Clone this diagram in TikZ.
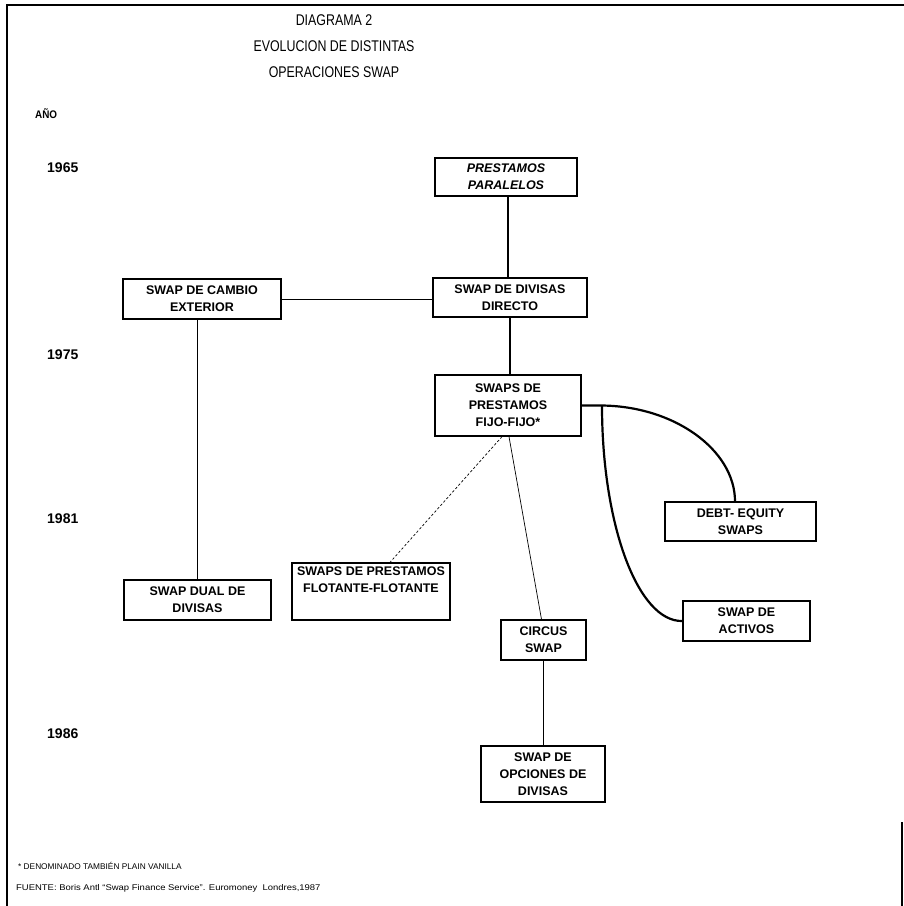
\documentclass[tikz,border=0pt]{standalone}
\usepackage{fontspec}
\setmainfont{Liberation Sans}
\begin{document}
\begin{tikzpicture}[x=1pt,y=-1pt,
  box/.style={draw, line width=1.3pt, align=center, inner sep=0pt,
    font=\fontsize{12.5}{17}\selectfont\bfseries},
  ibox/.style={box, font=\fontsize{12.5}{17}\selectfont\bfseries\itshape},
  year/.style={anchor=west, inner sep=0pt, font=\fontsize{14}{16}\selectfont\bfseries},
  title/.style={inner sep=0pt, font=\fontsize{15.5}{18}\selectfont},
  note/.style={anchor=west, inner sep=0pt, font=\fontsize{8.3}{10}\selectfont},
  link/.style={line width=1.3pt},
  thinlink/.style={line width=0.7pt},
  dotlink/.style={line width=0.7pt, dash pattern=on 2.5pt off 2pt},
  heavy/.style={line width=2.2pt},
  frame/.style={line width=1.5pt}]

% page and frame
\fill[white] (0,0) rectangle (904,906);
\useasboundingbox (0,0) rectangle (904,906);
\draw[frame] (7,906) -- (7,5) -- (904,5);
\draw[frame] (902,822) -- (902,906);

% heading (narrow setting)
\node[title] (t1) at (334,20) {\scalebox{0.8}[1]{DIAGRAMA 2}};
\node[title] (t2) at (334,46) {\scalebox{0.8}[1]{EVOLUCION DE DISTINTAS}};
\node[title] (t3) at (334,72) {\scalebox{0.8}[1]{OPERACIONES SWAP}};

% year axis
\node[year, font=\fontsize{11}{12}\selectfont\bfseries] (ano) at (35,114) {\scalebox{0.9}[1]{AÑO}};
\node[year] (y65) at (47,168) {1965};
\node[year] (y75) at (47,355) {1975};
\node[year] (y81) at (47,519) {1981};
\node[year] (y86) at (47,734) {1986};

% operations
\node[ibox, minimum width=142pt, minimum height=38pt] (par) at (506,177) {PRESTAMOS\\PARALELOS};
\node[box, minimum width=158pt, minimum height=40pt] (cambio) at (202,299) {SWAP DE CAMBIO\\EXTERIOR};
\node[box, minimum width=154pt, minimum height=39pt] (directo) at (510,297.5) {SWAP DE DIVISAS\\DIRECTO};
\node[box, minimum width=146pt, minimum height=61pt] (fijo) at (508,405.5) {SWAPS DE\\PRESTAMOS\\FIJO-FIJO*};
\node[box, minimum width=151pt, minimum height=39pt] (debt) at (740.5,521.5) {DEBT- EQUITY\\SWAPS};
\node[box, minimum width=147pt, minimum height=40pt] (dual) at (197.5,600) {SWAP DUAL DE\\DIVISAS};
\node[box, minimum width=158pt, minimum height=57pt] (flot) at (371,591.5) {SWAPS DE PRESTAMOS\\FLOTANTE-FLOTANTE\\[6pt]};
\node[box, minimum width=127pt, minimum height=40pt] (activos) at (746.5,621) {SWAP DE\\ACTIVOS};
\node[box, minimum width=85pt, minimum height=40pt] (circus) at (543.5,640) {CIRCUS\\SWAP};
\node[box, minimum width=124pt, minimum height=56pt] (opciones) at (543,774) {SWAP DE\\OPCIONES DE\\DIVISAS};

% connectors
\draw[link] ([xshift=2pt]par.south) -- ([xshift=2pt]par.south |- directo.north);
\draw[thinlink] (cambio.east) -- (cambio.east -| directo.west);
\draw[link] (directo.south) -- (directo.south |- fijo.north);
\draw[thinlink] ([xshift=-5pt]cambio.south) -- ([xshift=-5pt]cambio.south |- dual.north);
\draw[dotlink] ([xshift=-6pt]fijo.south) -- ([xshift=19pt]flot.north);
\draw[thinlink] ([xshift=1pt]fijo.south) -- ([xshift=-2pt]circus.north);
\draw[thinlink] (circus.south) -- (circus.south |- opciones.north);

\coordinate (bend) at (600,405.5);
\draw[heavy] (fijo.east) -- (bend) .. controls (674,405.5) and (735,450) .. ([xshift=-5.5pt]debt.north);
\draw[heavy] ([xshift=2pt]bend) .. controls (602,525) and (638,622) .. (activos.west);

% notes
\node[note] (n1) at (18,866) {* DENOMINADO TAMBIÉN PLAIN VANILLA};
\node[note] (n2) at (16,888) {\scalebox{1.14}[1]{FUENTE: Boris Antl ``Swap Finance Service''. Euromoney\ \ Londres,1987}};
\end{tikzpicture}
\end{document}
